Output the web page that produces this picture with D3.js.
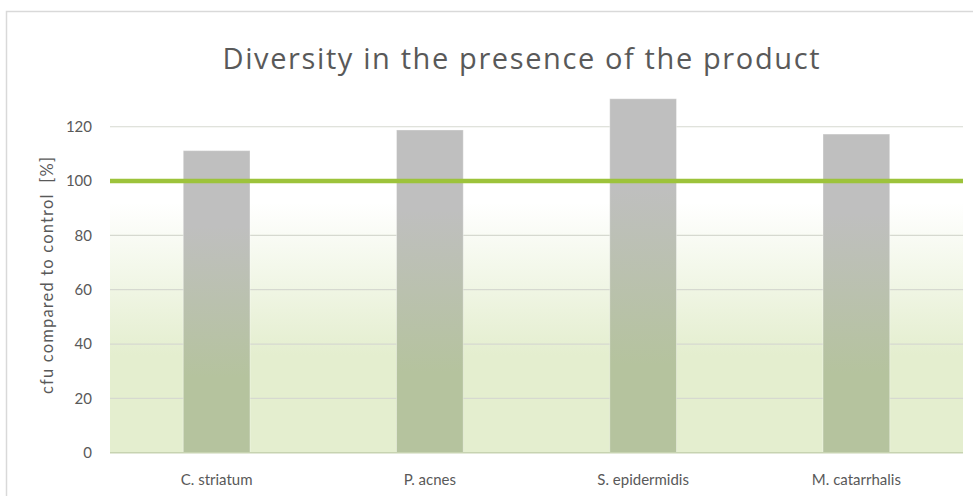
<!DOCTYPE html>
<html><head><meta charset="utf-8">
<script src="https://cdn.jsdelivr.net/npm/d3@7"></script>
<style>body{margin:0;background:#fff}svg{display:block}</style>
</head><body>
<script>
const categories = ["C. striatum", "P. acnes", "S. epidermidis", "M. catarrhalis"];
const values = [111.2, 118.8, 130.3, 117.3];
const referenceValue = [100];
const yTicks = [0, 20, 40, 60, 80, 100, 120];
const yDomain = [0, 140];
const titleText = "Diversity in the presence of the product";
const yLabel = "cfu compared to control  [%]";

const W = 973, H = 496;
const svg = d3.select("body").append("svg").attr("width", W).attr("height", H);
const defs = svg.append("defs");

const bg = defs.append("linearGradient").attr("id","bg").attr("x1",0).attr("y1",0).attr("x2",0).attr("y2",1);
bg.append("stop").attr("offset","0%").attr("stop-color","#ffffff");
bg.append("stop").attr("offset","8%").attr("stop-color","#ffffff");
bg.append("stop").attr("offset","64%").attr("stop-color","#e4eecf");
bg.append("stop").attr("offset","100%").attr("stop-color","#e4eecf");

const bar = defs.append("linearGradient").attr("id","bar").attr("x1",0).attr("y1",0).attr("x2",0).attr("y2",1);
bar.append("stop").attr("offset","0%").attr("stop-color","#bfbfbf");
bar.append("stop").attr("offset","25%").attr("stop-color","#bfbfbf");
bar.append("stop").attr("offset","75%").attr("stop-color","#b5c39e");
bar.append("stop").attr("offset","100%").attr("stop-color","#b5c39e");

// chart border
svg.append("rect").attr("x",6.5).attr("y",11.5).attr("width",975).attr("height",495)
  .attr("fill","none").attr("stroke","#d9d9d9").attr("stroke-width",1.5);

const x0 = 110, x1 = 963;
const y = d3.scaleLinear().domain(yDomain).range([452.7, 72.4]);
const r = 0.313;
const x = d3.scaleBand().domain(categories).range([x0, x1])
  .paddingInner(1 - r).paddingOuter((1 - r) / 2);

// background area below reference
svg.append("rect").attr("x",x0).attr("width",x1-x0)
  .attr("y",y(referenceValue[0])).attr("height",y(0)-y(referenceValue[0]))
  .attr("fill","url(#bg)");

// gridlines
svg.append("g").selectAll("line").data(yTicks.filter(d=>d>0)).join("line")
  .attr("x1",x0).attr("x2",x1).attr("y1",d=>y(d)).attr("y2",d=>y(d))
  .attr("stroke","#d6d9d0").attr("stroke-width",1.2);

// bars
svg.append("g").selectAll("rect").data(values).join("rect")
  .attr("x",(d,i)=>x(categories[i])).attr("width",x.bandwidth())
  .attr("y",d=>y(d)).attr("height",d=>y(0)-y(d))
  .attr("fill","url(#bar)").attr("stroke","rgba(255,255,255,0.35)").attr("stroke-width",1);

// axis line at 0
svg.append("line").attr("x1",x0).attr("x2",x1).attr("y1",y(0)).attr("y2",y(0))
  .attr("stroke","#c7d3b1").attr("stroke-width",1.6);

// reference line
svg.append("g").selectAll("line").data(referenceValue).join("line")
  .attr("x1",x0).attr("x2",x1).attr("y1",d=>y(d)).attr("y2",d=>y(d))
  .attr("stroke","#9dc33b").attr("stroke-width",4.5);

// y tick labels
svg.append("g").selectAll("text").data(yTicks).join("text")
  .attr("x",92).attr("y",d=>y(d)).attr("dy","0.36em").attr("text-anchor","end")
  .attr("font-family","Lato, 'Open Sans', sans-serif").attr("font-size",15).attr("fill","#595959")
  .text(d=>d);

// category labels
svg.append("g").selectAll("text").data(categories).join("text")
  .attr("x",d=>x(d)+x.bandwidth()/2).attr("y",485).attr("text-anchor","middle")
  .attr("font-family","Lato, 'Open Sans', sans-serif").attr("font-size",15).attr("fill","#595959")
  .text(d=>d);

// y label
svg.append("text").attr("transform","translate(53,275.5) rotate(-90)")
  .attr("text-anchor","middle")
  .attr("font-family","Lato, 'Open Sans', sans-serif").attr("font-size",16.5).attr("fill","#595959")
  .attr("textLength",237).attr("lengthAdjust","spacing")
  .style("white-space","pre").text(yLabel);

// title
svg.append("text").attr("x",521).attr("y",69).attr("text-anchor","middle")
  .attr("font-family","'Open Sans', Lato, sans-serif").attr("font-size",29).attr("fill","#595959")
  .attr("textLength",597).attr("lengthAdjust","spacing")
  .text(titleText);
</script>
</body></html>
